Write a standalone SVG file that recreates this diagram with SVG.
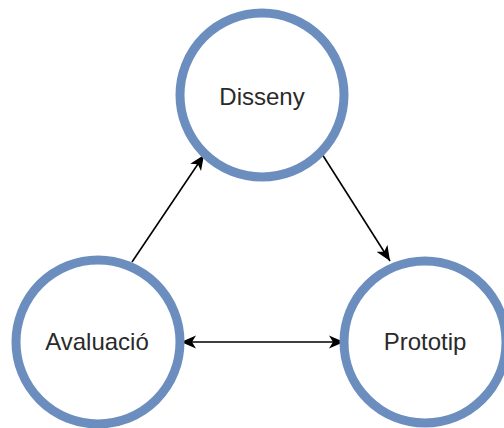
<svg xmlns="http://www.w3.org/2000/svg" width="504" height="428" viewBox="0 0 504 428">
  <style>
    .node { fill: #ffffff; stroke: #6c8ebf; stroke-width: 9; }
    .label { font-family: "Liberation Sans", Arial, sans-serif; font-size: 24px; fill: #2a2a2a; text-anchor: middle; }
    .edge { stroke: #000000; stroke-width: 1.6; fill: none; }
  </style>
  <defs>
    <marker id="arrowEnd" markerUnits="userSpaceOnUse" markerWidth="16" markerHeight="14" refX="15" refY="7" orient="auto">
      <path d="M0,0.5 L15,7 L0,13.5 L4,7 Z" fill="#000000"/>
    </marker>
    <marker id="arrowStart" markerUnits="userSpaceOnUse" markerWidth="16" markerHeight="14" refX="1" refY="7" orient="auto">
      <path d="M16,0.5 L1,7 L16,13.5 L12,7 Z" fill="#000000"/>
    </marker>
  </defs>
  <rect width="504" height="428" fill="#ffffff"/>
  <g id="connectors">
    <line class="edge" x1="132" y1="262" x2="204" y2="155" marker-end="url(#arrowEnd)"/>
    <line class="edge" x1="322" y1="154" x2="390" y2="261" marker-end="url(#arrowEnd)"/>
    <line class="edge" x1="181" y1="342" x2="344" y2="342" marker-start="url(#arrowStart)" marker-end="url(#arrowEnd)"/>
  </g>
  <g id="disseny">
    <circle class="node" cx="262" cy="95" r="82"/>
    <text class="label" x="262" y="105">Disseny</text>
  </g>
  <g id="avaluacio">
    <circle class="node" cx="98" cy="342" r="82"/>
    <text class="label" x="97" y="350">Avaluació</text>
  </g>
  <g id="prototip">
    <circle class="node" cx="425" cy="342" r="81"/>
    <text class="label" x="425" y="350">Prototip</text>
  </g>
</svg>
